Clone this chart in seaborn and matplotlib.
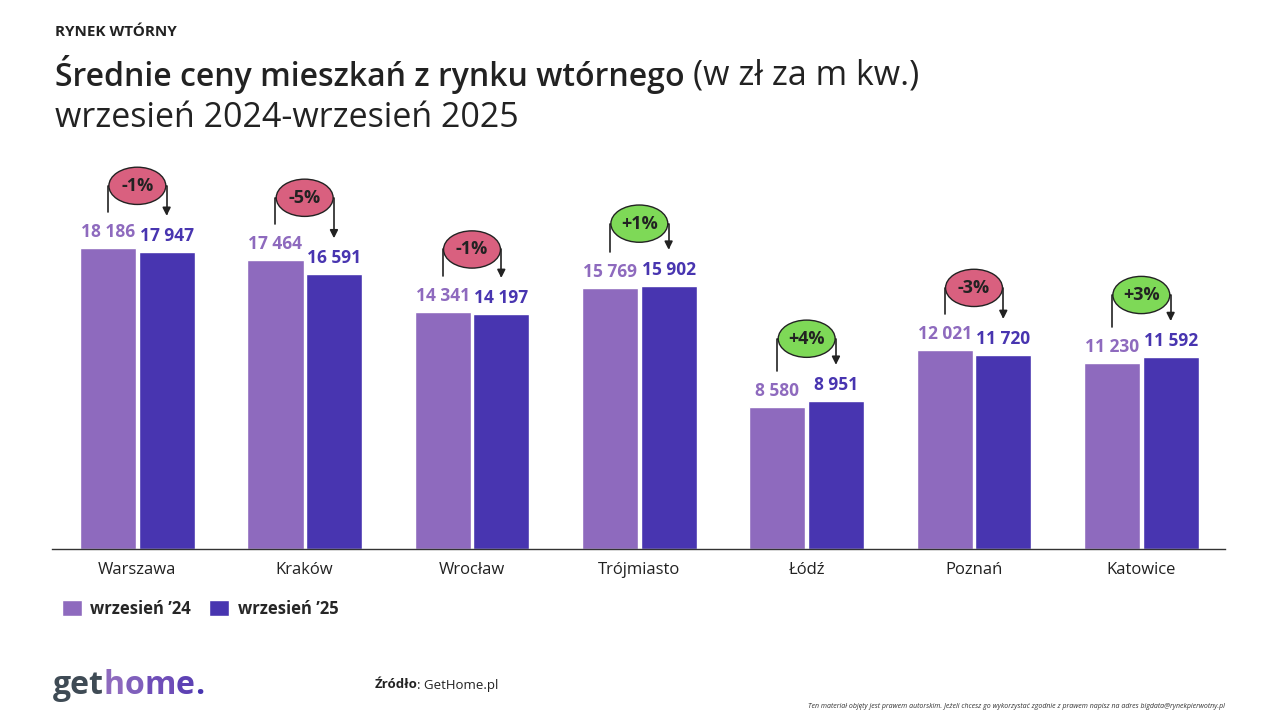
import numpy as np
import pandas as pd
import matplotlib
matplotlib.use("Agg")
import matplotlib.pyplot as plt
from matplotlib.patches import Ellipse, Patch
import seaborn as sns

# ================================
# Dane
# ================================
miasta = ["Warszawa", "Kraków", "Wrocław", "Trójmiasto", "Łódź", "Poznań", "Katowice"]
ceny_2024 = [18186, 17464, 14341, 15769, 8580, 12021, 11230]
ceny_2025 = [17947, 16591, 14197, 15902, 8951, 11720, 11592]
okresy = ["wrzesień ’24", "wrzesień ’25"]

kolor_24 = "#8E6ABE"
kolor_25 = "#4835B0"
kolor_minus = "#D9607F"
kolor_plus = "#7ED957"
kolor_tekst = "#222222"

df = pd.DataFrame({
    "miasto": miasta * 2,
    "okres": [okresy[0]] * len(miasta) + [okresy[1]] * len(miasta),
    "cena": ceny_2024 + ceny_2025,
})

sns.set_style("white")
plt.rcParams["font.family"] = ["Open Sans", "DejaVu Sans"]

fig = plt.figure(figsize=(12.8, 7.2), dpi=100)
ax = fig.add_axes([52 / 1280, (720 - 549) / 720, 1173 / 1280, (549 - 150) / 720])

sns.barplot(data=df, x="miasto", y="cena", hue="okres", order=miasta, hue_order=okresy,
            palette=[kolor_24, kolor_25], width=0.7, gap=0.04, saturation=1, ax=ax, legend=False)

ax.set_ylim(0, 24100)
ax.set_xlim(-0.51, 6.5)
ax.set_xlabel("")
ax.set_ylabel("")
ax.set_yticks([])
for s in ["top", "left", "right"]:
    ax.spines[s].set_visible(False)
ax.spines["bottom"].set_color("#333333")
ax.spines["bottom"].set_linewidth(1)
ax.tick_params(axis="x", length=0, pad=9, labelsize=12, labelcolor=kolor_tekst)

# etykiety wartości
fmt = lambda v: f"{v:,}".replace(",", " ")
for cont, ceny, kol in zip(ax.containers, [ceny_2024, ceny_2025], [kolor_24, kolor_25]):
    ax.bar_label(cont, labels=[fmt(v) for v in ceny], padding=5, color=kol,
                 fontsize=12.5, fontweight="bold")

# zmiany procentowe z ramką i strzałką
off_el = 3750
off_lin = 2175
el_w, el_h = 0.34, 2250
for b1, b2, v1, v2 in zip(ax.containers[0], ax.containers[1], ceny_2024, ceny_2025):
    x1 = b1.get_x() + b1.get_width() / 2
    x2 = b2.get_x() + b2.get_width() / 2
    xc = (x1 + x2) / 2
    yc = max(v1, v2) + off_el
    zm = round((v2 / v1 - 1) * 100)
    kol = kolor_plus if zm > 0 else kolor_minus
    ax.plot([x1, x1, xc - el_w / 2], [v1 + off_lin, yc, yc], color="#222222", lw=1.2,
            clip_on=False, zorder=3)
    ax.annotate("", xy=(x2, v2 + off_lin), xytext=(xc + el_w / 2, yc),
                arrowprops=dict(arrowstyle="-|>", color="#222222", lw=1.2,
                                connectionstyle="angle,angleA=0,angleB=90,rad=0",
                                shrinkA=0, shrinkB=0, mutation_scale=12),
                annotation_clip=False, zorder=3)
    ax.add_patch(Ellipse((xc, yc), el_w, el_h, facecolor=kol, edgecolor="#222222",
                         lw=1, zorder=4, clip_on=False))
    ax.text(xc, yc, f"{zm:+d}%", ha="center", va="center", fontsize=13,
            fontweight="bold", color="#222222", zorder=5)

# legenda
uchwyty = [Patch(facecolor=kolor_24), Patch(facecolor=kolor_25)]
fig.legend(uchwyty, okresy, loc="center left", bbox_to_anchor=(47 / 1280, 1 - 609 / 720),
           frameon=False, ncol=2, handlelength=1.2, handleheight=1.1, handletextpad=0.5,
           columnspacing=1.1, prop={"weight": "bold", "size": 12})

# tytuły
fig.text(55 / 1280, 1 - 32 / 720, "RYNEK WTÓRNY", fontsize=11, fontweight="bold",
         color=kolor_tekst, va="center")
r = fig.canvas.get_renderer()
t1 = fig.text(55 / 1280, 1 - 75 / 720, "Średnie ceny mieszkań z rynku wtórnego ", fontsize=23,
              fontweight="semibold", color=kolor_tekst, va="center")
bb = t1.get_window_extent(r)
fig.text(bb.x1 / 1280, 1 - 75 / 720, "(w zł za m kw.)", fontsize=24.5, color=kolor_tekst, va="center")
fig.text(55 / 1280, 1 - 118 / 720, "wrzesień 2024-wrzesień 2025", fontsize=24.5,
         color=kolor_tekst, va="center")

# logo i źródło
lg = fig.text(53 / 1280, 1 - 685 / 720, "get", fontsize=23, fontweight="bold",
              color="#3F4B55", va="center")
x0 = lg.get_window_extent(r).x1
for lit, kol in zip("home.", ["#8E6ABE", "#8060BC", "#6F4EB8", "#5E42B4", "#4835B0"]):
    t = fig.text(x0 / 1280, 1 - 685 / 720, lit, fontsize=23, fontweight="bold",
                 color=kol, va="center")
    x0 = t.get_window_extent(r).x1
zr = fig.text(375 / 1280, 1 - 685 / 720, "Źródło", fontsize=9.5, fontweight="bold",
              color=kolor_tekst, va="center")
bb = zr.get_window_extent(r)
fig.text((bb.x1 - 1) / 1280, 1 - 685 / 720, ": GetHome.pl", fontsize=9.5, color=kolor_tekst,
         va="center")
fig.text(1225 / 1280, 1 - 706 / 720,
         "Ten materiał objęty jest prawem autorskim. Jeżeli chcesz go wykorzystać zgodnie z prawem "
         "napisz na adres bigdata@rynekpierwotny.pl",
         fontsize=5, style="italic", color="#333333", ha="right", va="center")

fig.savefig("out.png", dpi=100, facecolor="white")
